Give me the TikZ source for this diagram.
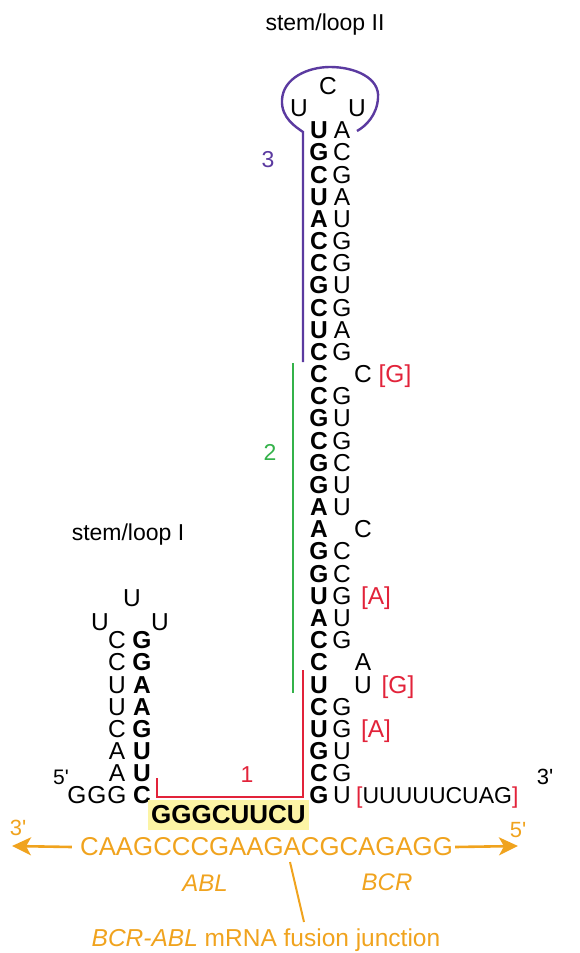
\documentclass[tikz,border=0pt]{standalone}
\usepackage{fontspec}
\setmainfont{Liberation Sans}
\usetikzlibrary{arrows.meta}
\definecolor{rpurple}{RGB}{91,58,160}
\definecolor{rgreen}{RGB}{52,178,74}
\definecolor{rred}{RGB}{226,35,58}
\definecolor{rorange}{RGB}{240,163,30}
\definecolor{ryellow}{RGB}{252,244,165}
\tikzset{
  nt/.style={inner sep=0pt, text height=17.5pt, text depth=0pt, font=\fontsize{24.5}{28}\selectfont},
  ntb/.style={inner sep=0pt, text height=17.5pt, text depth=0pt, font=\fontsize{24.5}{28}\selectfont\bfseries},
  ann/.style={nt, text=rred},
  lbl/.style={inner sep=0pt, font=\fontsize{23}{27}\selectfont},
  onode/.style={inner sep=0pt, text=rorange, font=\fontsize{25.8}{29}\selectfont},
  oprime/.style={inner sep=0pt, text=rorange, font=\fontsize{22}{26}\selectfont},
  pline/.style={draw=rpurple, line width=2.4pt},
  gline/.style={draw=rgreen, line width=2.4pt},
  rline/.style={draw=rred, line width=2.4pt},
  oline/.style={draw=rorange, line width=2pt},
  oarrow/.style={draw=rorange, line width=2.6pt, -{Stealth[length=19pt,width=18pt,inset=5pt]}}
}
\begin{document}
\begin{tikzpicture}[x=1pt,y=-1pt]
\useasboundingbox (0,0) rectangle (579,953);
% titles
\node[lbl] (t2) at (325,25) {stem/loop II};
\node[lbl] (t1) at (128,535) {stem/loop I};
% main stem, left (bold) column
\foreach \b [count=\i] in {U,G,C,U,A,C,C,G,C,U,C,C,C,G,C,G,G,A,A,G,G,U,A,C,C,U,C,U,G,C,G}
  \node[ntb] (L\i) at (319,{130+(\i-1)*22.17}) {\b};
% main stem, right column
\foreach \b/\xx [count=\i] in {A/342,C/342,G/342,A/342,U/342,G/342,G/342,U/342,G/342,A/342,G/342,
   C/363,G/342,U/342,G/342,C/342,U/342,U/342,C/363,C/342,C/342,G/342,U/342,G/342,
   A/363,U/363,G/342,G/342,U/342,G/342,U/342}
  \node[nt] (R\i) at (\xx,{130+(\i-1)*22.17}) {\b};
% loop II
\node[nt] (lp1) at (299,108) {U};
\node[nt] (lp2) at (328,86) {C};
\node[nt] (lp3) at (357,108) {U};
% red annotations
\node[ann] (a12) at (395,{130+11*22.17}) {[G]};
\node[ann] (a22) at (376,{130+21*22.17}) {[A]};
\node[ann] (a26) at (398,{130+25*22.17}) {[G]};
\node[ann] (a28) at (376,{130+27*22.17}) {[A]};
\node[inner sep=0pt, text height=16.5pt, text depth=0pt, font=\fontsize{23}{27}\selectfont, anchor=west] (tail) at (356,795) {\textcolor{rred}{[}UUUUUCUAG\textcolor{rred}{]}};
\node[inner sep=0pt, font=\fontsize{22}{26}\selectfont] (p3) at (545,777) {3\textquotesingle};
% stem/loop I
\foreach \b [count=\i] in {C,C,U,U,C,A,A,G}
  \node[nt] (SL\i) at (117,{640+(\i-1)*22.17}) {\b};
\foreach \b [count=\i] in {G,G,A,A,G,U,U,C}
  \node[ntb] (SR\i) at (142,{640+(\i-1)*22.17}) {\b};
\node[nt] (s1a) at (100,622) {U};
\node[nt] (s1b) at (132,598) {U};
\node[nt] (s1c) at (160,622) {U};
\node[nt] (g1) at (77,795) {G};
\node[nt] (g2) at (97,795) {G};
\node[inner sep=0pt, font=\fontsize{21}{25}\selectfont] (p5) at (61,777) {5\textquotesingle};
% bracket lines
\coordinate (pA) at (303,132);
\coordinate (pB) at (303,362);
\coordinate (pE) at (357,131);
\draw[pline] (pB) -- (pA) .. controls (296,127) and (281,118) .. (282,100)
   .. controls (283,78) and (308,67) .. (330,67)
   .. controls (355,67) and (380,78) .. (378,98)
   .. controls (377,115) and (366,126) .. (pE);
\node[inner sep=0pt, text=rpurple, font=\fontsize{23}{27}\selectfont] (n3) at (268,160) {3};
\coordinate (gA) at (293,363);
\coordinate (gB) at (293,693);
\draw[gline] (gA) -- (gB);
\node[inner sep=0pt, text=rgreen, font=\fontsize{23}{27}\selectfont] (n2) at (270,452) {2};
\coordinate (rA) at (303,670);
\coordinate (rB) at (303,797);
\coordinate (rC) at (157,797);
\coordinate (rD) at (157,778);
\draw[rline] (rA) -- (rB) -- (rC) -- (rD);
\node[inner sep=0pt, text=rred, font=\fontsize{23}{27}\selectfont] (n1) at (247,775) {1};
% highlighted target
\node[fill=ryellow, minimum width=161pt, minimum height=30pt, inner sep=0pt,
      font=\fontsize{26}{30}\selectfont\bfseries] (hl) at (228.5,815) {GGGCUUCU};
% mRNA
\node[onode] (seq) at (266.5,847) {CAAGCCCGAAGACGCAGAGG};
\coordinate (tipL) at (12,846);
\coordinate (tipR) at (518,846);
\draw[oarrow] ([xshift=-8pt]seq.west) -- (tipL);
\draw[oarrow] ([xshift=2pt]seq.east) -- (tipR);
\node[oprime] (o3) at (18,828) {3\textquotesingle};
\node[oprime] (o5) at (518,830) {5\textquotesingle};
\node[onode, font=\fontsize{24}{28}\selectfont\itshape] (abl) at (205,883) {ABL};
\node[onode, font=\fontsize{24}{28}\selectfont\itshape] (bcr) at (387,882) {BCR};
\coordinate (jA) at (290,862);
\coordinate (jB) at (304,922);
\draw[oline] (jA) -- (jB);
\node[onode, font=\fontsize{24.5}{28}\selectfont] (junc) at (266,940) {\textit{BCR-ABL} mRNA fusion junction};
\end{tikzpicture}
\end{document}
